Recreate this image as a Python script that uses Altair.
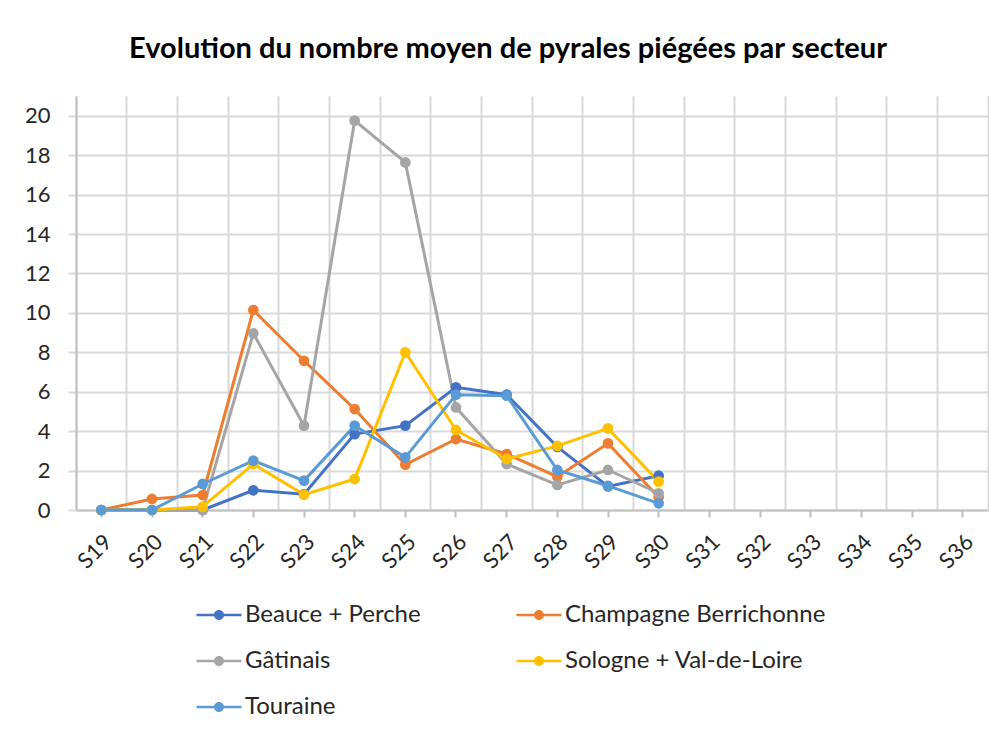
import altair as alt
import pandas as pd

weeks = ["S19", "S20", "S21", "S22", "S23", "S24", "S25", "S26", "S27",
         "S28", "S29", "S30", "S31", "S32", "S33", "S34", "S35", "S36"]
data_weeks = weeks[:12]

series_names = ["Beauce + Perche", "Champagne Berrichonne", "Gâtinais",
                "Sologne + Val-de-Loire", "Touraine"]
beauce = [0, 0, 0, 1.0, 0.8, 3.85, 4.28, 6.22, 5.85, 3.2, 1.2, 1.74]
champagne = [0, 0.56, 0.76, 10.14, 7.57, 5.12, 2.3, 3.6, 2.84, 1.69, 3.38, 0.65]
gatinais = [0, 0, 0, 8.96, 4.28, 19.75, 17.63, 5.2, 2.33, 1.27, 2.03, 0.85]
sologne = [0, 0, 0.17, 2.33, 0.78, 1.57, 8.0, 4.06, 2.59, 3.25, 4.14, 1.44]
touraine = [0, 0, 1.32, 2.5, 1.49, 4.28, 2.67, 5.85, 5.8, 2.03, 1.22, 0.34]
colors = ["#4472C4", "#ED7D31", "#A5A5A5", "#FFC000", "#5B9BD5"]
y_ticks = [0, 2, 4, 6, 8, 10, 12, 14, 16, 18, 20]

rows = []
for name, vals in zip(series_names, [beauce, champagne, gatinais, sologne, touraine]):
    for w, v in zip(data_weeks, vals):
        rows.append({"semaine": w, "secteur": name, "valeur": v})
df = pd.DataFrame(rows)

FONT = "Lato"
xscale = alt.Scale(domain=weeks, type="band", paddingInner=0, paddingOuter=0)
yscale = alt.Scale(domain=[0, 21], nice=False)
cscale = alt.Scale(domain=series_names, range=colors)

# legend glyph: short line with a dot in the middle
LINE_DOT = ("M-2.25,-0.13 L2.25,-0.13 L2.25,0.13 L-2.25,0.13 Z "
            "M0.5,0 A0.5,0.5 0 1,1 -0.5,0 A0.5,0.5 0 1,1 0.5,0 Z")

grid_layer = alt.Chart(df).mark_line(opacity=0).encode(
    x=alt.X("semaine:N", sort=weeks, scale=xscale,
            axis=alt.Axis(orient="bottom", grid=True, bandPosition=0, labels=False,
                          ticks=False, domain=False, title=None,
                          gridColor="#d9d9d9", gridWidth=2)),
    y=alt.Y("valeur:Q", scale=yscale,
            axis=alt.Axis(orient="right", grid=False, labels=False, ticks=False,
                          domain=True, domainColor="#d9d9d9", domainWidth=2, title=None)),
    detail="secteur:N",
)

lines = alt.Chart(df).mark_line(
    strokeWidth=3,
    point=alt.OverlayMarkDef(filled=True, size=115, opacity=1),
).encode(
    x=alt.X("semaine:N", sort=weeks, scale=xscale,
            axis=alt.Axis(orient="bottom", grid=False, labelAngle=-45, labelFontSize=22,
                          labelColor="#262626", labelFont=FONT, labelPadding=14,
                          domainColor="#bfbfbf", domainWidth=2, tickColor="#bfbfbf",
                          tickWidth=2, tickSize=7, title=None)),
    y=alt.Y("valeur:Q", scale=yscale,
            axis=alt.Axis(orient="left", values=y_ticks, grid=True, gridColor="#d9d9d9",
                          gridWidth=2, domainColor="#bfbfbf", domainWidth=2,
                          tickColor="#d9d9d9", tickWidth=2, tickSize=8,
                          labelFontSize=22, labelColor="#262626", labelFont=FONT,
                          labelPadding=18, title=None)),
    color=alt.Color("secteur:N", scale=cscale, sort=series_names,
                    legend=alt.Legend(title=None, orient="none", direction="horizontal",
                                      legendX=131, legendY=507,
                                      columns=2, columnPadding=95, rowPadding=22,
                                      labelFontSize=24, labelFont=FONT, labelLimit=500,
                                      labelColor="#262626", symbolType=LINE_DOT,
                                      symbolSize=400, symbolStrokeWidth=0,
                                      symbolOpacity=1, labelOffset=14)),
)

chart = alt.layer(grid_layer, lines).resolve_axis(
    x="independent", y="independent"
).properties(
    width=912,
    height=414,
    autosize=alt.AutoSizeParams(type="none"),
    padding={"left": 68, "top": 88, "right": 1, "bottom": 210},
    title=alt.TitleParams(
        "Evolution du nombre moyen de pyrales piégées par secteur",
        anchor="middle", dx=-24, offset=32, fontSize=29, font=FONT,
        fontWeight="bold", color="#000000",
    ),
).configure_view(stroke=None)

chart.save("out.html", embed_options={"renderer": "svg", "actions": False})
